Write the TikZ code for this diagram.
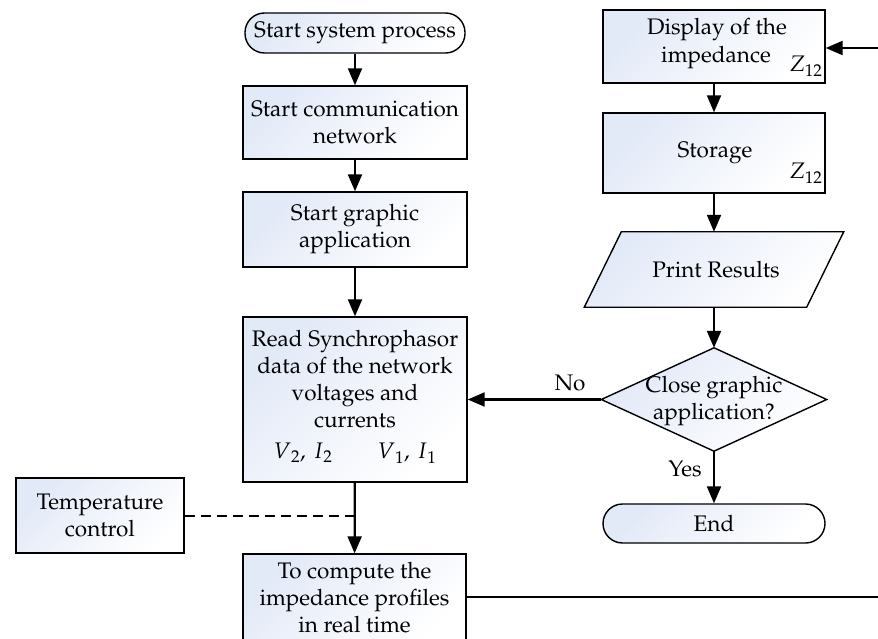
\documentclass[tikz,border=0pt]{standalone}
\usepackage[T1]{fontenc}
\usepackage{mathpazo}
\usetikzlibrary{arrows.meta}
\definecolor{shadeC}{RGB}{226,233,247}
\begin{document}
\begin{tikzpicture}[x=1pt,y=-1pt,
  every node/.style={font=\fontsize{22.5}{27}\selectfont},
  boxfill/.style={draw=black,line width=1.4pt,left color=shadeC,right color=white,shading angle=45},
  procbox/.style={boxfill,rectangle,minimum width=224pt,align=center,inner sep=0pt},
  termbox/.style={boxfill,rectangle,rounded corners=19.5pt,align=center,inner sep=0pt,minimum height=39pt},
  ghost/.style={rectangle,inner sep=0pt,align=center},
  conn/.style={line width=2.2pt,-{Triangle[length=17pt,width=14pt]}},
  plain/.style={line width=2.2pt},
  dashconn/.style={line width=2pt,dash pattern=on 10pt off 6pt},
  lbl/.style={inner sep=0pt}
]
\useasboundingbox (0,0) rectangle (878,639);

% left column
\node[termbox,minimum width=220pt,minimum height=40pt] (start) at (355,33) {Start system process};
\node[procbox,minimum height=73pt] (comm) at (355,122.5) {Start communication\\network};
\node[procbox,minimum height=75pt] (graphic) at (355,229.5) {Start graphic\\application};
\node[procbox,minimum height=165pt] (read) at (355,399.5) {};
\node[ghost] (readtxt) at (355,397) {Read Synchrophasor\\data of the network\\voltages and\\currents\\[4pt]$V{}_2,\,I{}_2\qquad V{}_1,\,I{}_1$};
\node[procbox,minimum width=168pt,minimum height=75pt] (temp) at (100,515.5) {Temperature\\control};
\node[procbox,minimum width=223pt,minimum height=88pt] (compute) at (354.5,598) {To compute the\\impedance profiles\\in real time};

% right column
\node[procbox,minimum width=222pt,minimum height=73pt] (display) at (714,46.5) {};
\node[lbl,anchor=base] (disp1) at (717,35) {Display of the};
\node[lbl,anchor=base] (disp2) at (716,63) {impedance};
\node[lbl,anchor=base] (dispz) at (806,72) {$Z_{12}$};
\node[procbox,minimum width=222pt,minimum height=80pt] (storage) at (714,153) {};
\node[lbl,anchor=base] (stor1) at (715,158) {Storage};
\node[lbl,anchor=base] (storz) at (806,179) {$Z_{12}$};

\node[ghost,minimum width=222pt,minimum height=75pt] (print) at (714,269.5) {};
\draw[boxfill] ([xshift=-18.5pt]print.south west) -- ([xshift=18.5pt]print.north west)
  -- ([xshift=18.5pt]print.north east) -- ([xshift=-18.5pt]print.south east) -- cycle;
\node[lbl] (printtxt) at (716,270) {Print Results};

\node[ghost,minimum width=225pt,minimum height=103pt] (dec) at (714,399.5) {};
\draw[boxfill] (dec.north) -- (dec.east) -- (dec.south) -- (dec.west) -- cycle;
\node[ghost] (dectxt) at (714,401) {Close graphic\\application?};

\node[termbox,minimum width=222pt] (end) at (714,523.5) {End};

% off-picture ends
\coordinate (inR) at (878,48);
\coordinate (outR) at (878,597);
\coordinate (j) at (read.south |- temp.east);

% connectors
\draw[conn] (start) -- (comm);
\draw[conn] (comm) -- (graphic);
\draw[conn] (graphic) -- (read);
\draw[conn] (read) -- (compute);
\draw[dashconn] (temp.east) -- (j);
\draw[plain] (compute.east |- outR) -- (outR);
\draw[conn] (inR) -- (display.east |- inR);
\draw[conn] (display) -- (storage);
\draw[conn] (storage) -- (print);
\draw[conn] (print) -- (dec);
\draw[conn] (dec.west) -- (read.east);
\draw[conn] (dec.south) -- (end.north);

\node[lbl] (nolbl) at (570,383) {No};
\node[lbl] (yeslbl) at (685,469) {Yes};
\end{tikzpicture}
\end{document}
